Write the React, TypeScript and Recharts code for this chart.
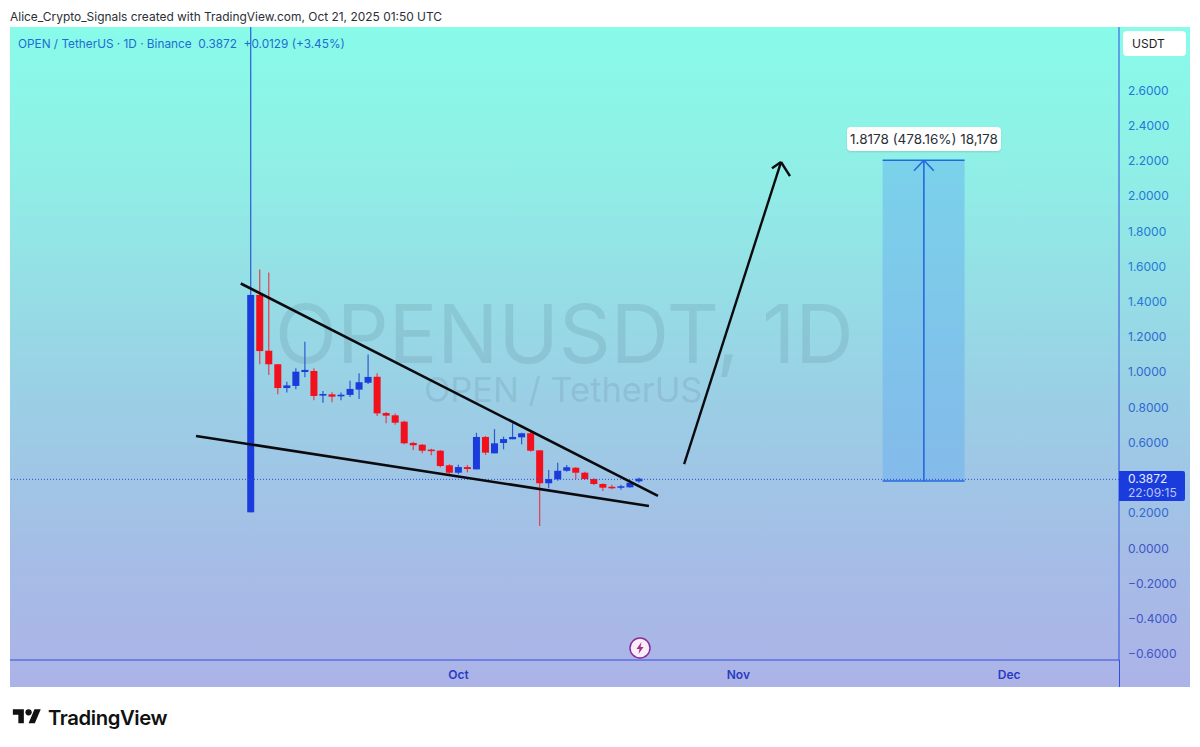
import { Bar, ComposedChart, ReferenceArea, ReferenceLine, XAxis, YAxis } from "recharts";

const FONT = "Inter, 'Liberation Sans', sans-serif";
const BLUE = "#1a3cdc";
const RED = "#f2101c";

// one entry per daily candle, Sep 8 to Oct 21 2025 (day 0 = Sep 8)
const opens = [
  0.2, 1.435, 1.118, 1.041, 0.906, 0.918, 0.997, 1.003, 0.863, 0.87, 0.859, 0.867, 0.897, 0.936, 0.97, 0.764,
  0.751, 0.715, 0.594, 0.584, 0.556, 0.55, 0.467, 0.425, 0.457, 0.444, 0.628, 0.535, 0.594, 0.615, 0.626,
  0.649, 0.552, 0.365, 0.387, 0.436, 0.453, 0.425, 0.389, 0.361, 0.345, 0.342, 0.342, 0.376,
];
const highs = [
  2.957, 1.58, 1.563, 1.041, 0.942, 1.018, 1.169, 1.018, 0.889, 0.882, 0.88, 0.948, 0.99, 1.096, 0.99, 0.77,
  0.762, 0.72, 0.601, 0.588, 0.561, 0.554, 0.473, 0.47, 0.469, 0.652, 0.634, 0.673, 0.63, 0.706, 0.652,
  0.658, 0.552, 0.44, 0.482, 0.469, 0.457, 0.431, 0.393, 0.363, 0.357, 0.357, 0.378, 0.397,
];
const lows = [
  0.2, 1.041, 0.98, 0.87, 0.88, 0.899, 0.967, 0.836, 0.823, 0.825, 0.836, 0.855, 0.844, 0.929, 0.747, 0.706,
  0.698, 0.586, 0.554, 0.535, 0.524, 0.456, 0.408, 0.416, 0.427, 0.444, 0.526, 0.535, 0.558, 0.615, 0.586,
  0.544, 0.122, 0.336, 0.38, 0.431, 0.389, 0.385, 0.355, 0.321, 0.331, 0.328, 0.34, 0.368,
];
const closes = [
  1.435, 1.116, 1.041, 0.906, 0.921, 0.999, 1.009, 0.861, 0.872, 0.857, 0.868, 0.901, 0.939, 0.969, 0.762, 0.749,
  0.709, 0.592, 0.581, 0.55, 0.548, 0.463, 0.425, 0.457, 0.446, 0.628, 0.539, 0.592, 0.616, 0.628, 0.649,
  0.55, 0.365, 0.389, 0.436, 0.456, 0.425, 0.389, 0.361, 0.34, 0.34, 0.348, 0.368, 0.391,
];

const priceTicks = [2.6, 2.4, 2.2, 2, 1.8, 1.6, 1.4, 1.2, 1, 0.8, 0.6, 0.2, 0, -0.2, -0.4, -0.6];
const monthTicks = [23, 54, 84];
const monthNames = ["Oct", "Nov", "Dec"];

const lastPrice = 0.3872;
const targetPrice = 2.2;
const entryPrice = 0.378;

const dayDomain = [-26.66, 96.16];
const priceDomain = [-0.639, 2.957];

const candles = opens.map((open, i) => ({
  day: i,
  open,
  close: closes[i],
  range: [lows[i], highs[i]],
}));

function Candle(props: any) {
  const { x, y, width, height, payload } = props;
  const up = payload.close >= payload.open;
  const color = up ? BLUE : RED;
  const [low, high] = payload.range;
  const perUnit = height / (high - low || 1);
  const top = y + (high - Math.max(payload.open, payload.close)) * perUnit;
  const bottom = y + (high - Math.min(payload.open, payload.close)) * perUnit;
  const mid = x + width / 2;
  return (
    <g>
      <line x1={mid} x2={mid} y1={y} y2={y + height} stroke={up ? "#2a5cd0" : "#e2404e"} strokeWidth={1.2} />
      <rect x={x} y={top} width={width} height={Math.max(bottom - top, 1.5)} fill={color} />
    </g>
  );
}

// price labels drift from light blue at the top to indigo at the bottom
function PriceTick({ x, y, payload }: any) {
  const v = payload.value;
  const fill = v >= 1.4 ? "#2478d8" : v >= 0.2 ? "#3068d2" : "#3f55c8";
  return (
    <text x={x} y={y} dy={5} fill={fill} fontSize={12} fontFamily={FONT} textAnchor="start">
      {v < 0 ? "\u2212" + Math.abs(v).toFixed(4) : v.toFixed(4)}
    </text>
  );
}

export default function App() {
  return (
    <div style={{ position: "absolute", left: 0, top: 0, width: 1200, height: 747, background: "#fff", overflow: "hidden", fontFamily: FONT }}>
      <div style={{ position: "absolute", left: 10, top: 9, fontSize: 11.95, color: "#2b2f36", whiteSpace: "nowrap" }}>
        Alice_Crypto_Signals created with TradingView.com, Oct 21, 2025 01:50 UTC
      </div>
      <div
        style={{
          position: "absolute",
          left: 10,
          top: 27,
          width: 1180,
          height: 660,
          background: "linear-gradient(180deg, #88fbe9 0%, #8ff0e6 20%, #9ad0e5 55%, #a5bde6 80%, #acb3e7 100%)",
        }}
      />
      <div style={{ position: "absolute", left: 275, top: 294, fontSize: 81, lineHeight: "80px", color: "rgba(80,110,130,0.17)", whiteSpace: "nowrap" }}>
        OPENUSDT, 1D
      </div>
      <div style={{ position: "absolute", left: 424, top: 375, fontSize: 34.4, lineHeight: "30px", color: "rgba(80,110,130,0.17)", whiteSpace: "nowrap" }}>
        OPEN / TetherUS
      </div>

      <div style={{ position: "absolute", left: 0, top: 0 }}>
        <ComposedChart width={1200} height={747} data={candles} margin={{ top: 27, right: 15, bottom: 60, left: 10 }}>
          <XAxis
            type="number"
            dataKey="day"
            domain={dayDomain}
            allowDataOverflow
            ticks={monthTicks}
            tickFormatter={(v: number) => monthNames[monthTicks.indexOf(v)]}
            height={27}
            tickLine={false}
            tickMargin={4}
            axisLine={{ stroke: "#2f4fe0", strokeWidth: 1 }}
            tick={{ fill: "#2a3bc4", fontSize: 12, fontWeight: 600, fontFamily: FONT }}
          />
          <YAxis
            orientation="right"
            domain={priceDomain}
            allowDataOverflow
            ticks={priceTicks}
            interval={0}
            width={66}
            tickSize={0}
            tickMargin={9}
            axisLine={{ stroke: "#2f4fe0", strokeWidth: 1 }}
            tick={PriceTick}
          />

          {/* long position box */}
          <ReferenceArea x1={69.98} x2={79.06} y1={entryPrice} y2={targetPrice} fill="#62aef0" fillOpacity={0.45} stroke="none" />
          <ReferenceLine y={lastPrice} stroke="#2a50d8" strokeWidth={1} strokeDasharray="1 2" />
          <ReferenceLine segment={[{ x: 69.98, y: targetPrice }, { x: 79.06, y: targetPrice }]} stroke="#2468e0" strokeWidth={1.6} />
          <ReferenceLine segment={[{ x: 69.98, y: entryPrice }, { x: 79.06, y: entryPrice }]} stroke="#2468e0" strokeWidth={1.6} />
          <ReferenceLine segment={[{ x: 74.55, y: entryPrice }, { x: 74.55, y: targetPrice }]} stroke="#2468e0" strokeWidth={1.6} />
          <ReferenceLine segment={[{ x: 74.55, y: targetPrice }, { x: 73.45, y: 2.14 }]} stroke="#2468e0" strokeWidth={1.6} />
          <ReferenceLine segment={[{ x: 74.55, y: targetPrice }, { x: 75.65, y: 2.14 }]} stroke="#2468e0" strokeWidth={1.6} />

          <Bar dataKey="range" barSize={7} shape={Candle} isAnimationActive={false} />

          {/* falling wedge drawing */}
          <ReferenceLine segment={[{ x: -1.1, y: 1.5 }, { x: 45.1, y: 0.293 }]} stroke="#0b0b0f" strokeWidth={2.6} />
          <ReferenceLine segment={[{ x: -6.06, y: 0.634 }, { x: 44.1, y: 0.236 }]} stroke="#0b0b0f" strokeWidth={2.6} />
          {/* target arrow */}
          <ReferenceLine segment={[{ x: 48, y: 0.474 }, { x: 58.73, y: 2.19 }]} stroke="#0b0b0f" strokeWidth={2.4} />
          <ReferenceLine segment={[{ x: 58.73, y: 2.19 }, { x: 57.73, y: 2.155 }]} stroke="#0b0b0f" strokeWidth={2.4} />
          <ReferenceLine segment={[{ x: 58.73, y: 2.19 }, { x: 59.72, y: 2.11 }]} stroke="#0b0b0f" strokeWidth={2.4} />
        </ComposedChart>
      </div>

      <div style={{ position: "absolute", left: 18, top: 37, fontSize: 11.8, color: "#1f6cd2", whiteSpace: "pre" }}>
        {"OPEN / TetherUS \u00b7 1D \u00b7 Binance  0.3872  +0.0129 (+3.45%)"}
      </div>
      <div style={{ position: "absolute", left: 1119, top: 660, width: 1, height: 27, background: "#2f4fe0" }} />
      <div
        style={{
          position: "absolute",
          left: 1123,
          top: 31,
          width: 63,
          height: 25,
          background: "#fff",
          borderRadius: 4,
          fontSize: 12,
          lineHeight: "25px",
          paddingLeft: 9,
          boxSizing: "border-box",
          color: "#222",
        }}
      >
        USDT
      </div>
      <div
        style={{
          position: "absolute",
          left: 1119,
          top: 471,
          width: 66,
          height: 30,
          background: BLUE,
          borderRadius: "0 2px 2px 0",
          color: "#e8ecff",
          fontSize: 12,
          lineHeight: "14px",
          paddingTop: 1,
          paddingLeft: 9,
          boxSizing: "border-box",
        }}
      >
        0.3872
        <br />
        <span style={{ color: "#b8c4f4" }}>22:09:15</span>
      </div>
      <div
        style={{
          position: "absolute",
          left: 847,
          top: 127,
          width: 154,
          height: 24,
          background: "#fff",
          borderRadius: 4,
          fontSize: 13.5,
          lineHeight: "24px",
          textAlign: "center",
          color: "#2b2f36",
          whiteSpace: "nowrap",
          boxShadow: "0 1px 2px rgba(0,0,0,0.12)",
        }}
      >
        1.8178 (478.16%) 18,178
      </div>

      <svg style={{ position: "absolute", left: 628, top: 636 }} width={24} height={24} viewBox="0 0 24 24">
        <circle cx={12} cy={12} r={10} fill="#f6eef8" stroke="#8e2a9c" strokeWidth={1.5} />
        <path d="M13.5 6 L8.5 13 H11.5 L10.5 18 L15.5 11 H12.5 Z" fill="#b02a8c" />
      </svg>

      <svg style={{ position: "absolute", left: 12, top: 706 }} width={30} height={22} viewBox="0 0 36 28">
        <path d="M14 22H7V11H0V4h14v18zM28 22h-8l7.5-18h8L28 22z" fill="#111" />
        <circle cx={20} cy={8} r={4} fill="#111" />
      </svg>
      <div style={{ position: "absolute", left: 48, top: 705, fontSize: 20.3, fontWeight: 600, color: "#111", letterSpacing: -0.4, whiteSpace: "nowrap" }}>
        TradingView
      </div>
    </div>
  );
}
